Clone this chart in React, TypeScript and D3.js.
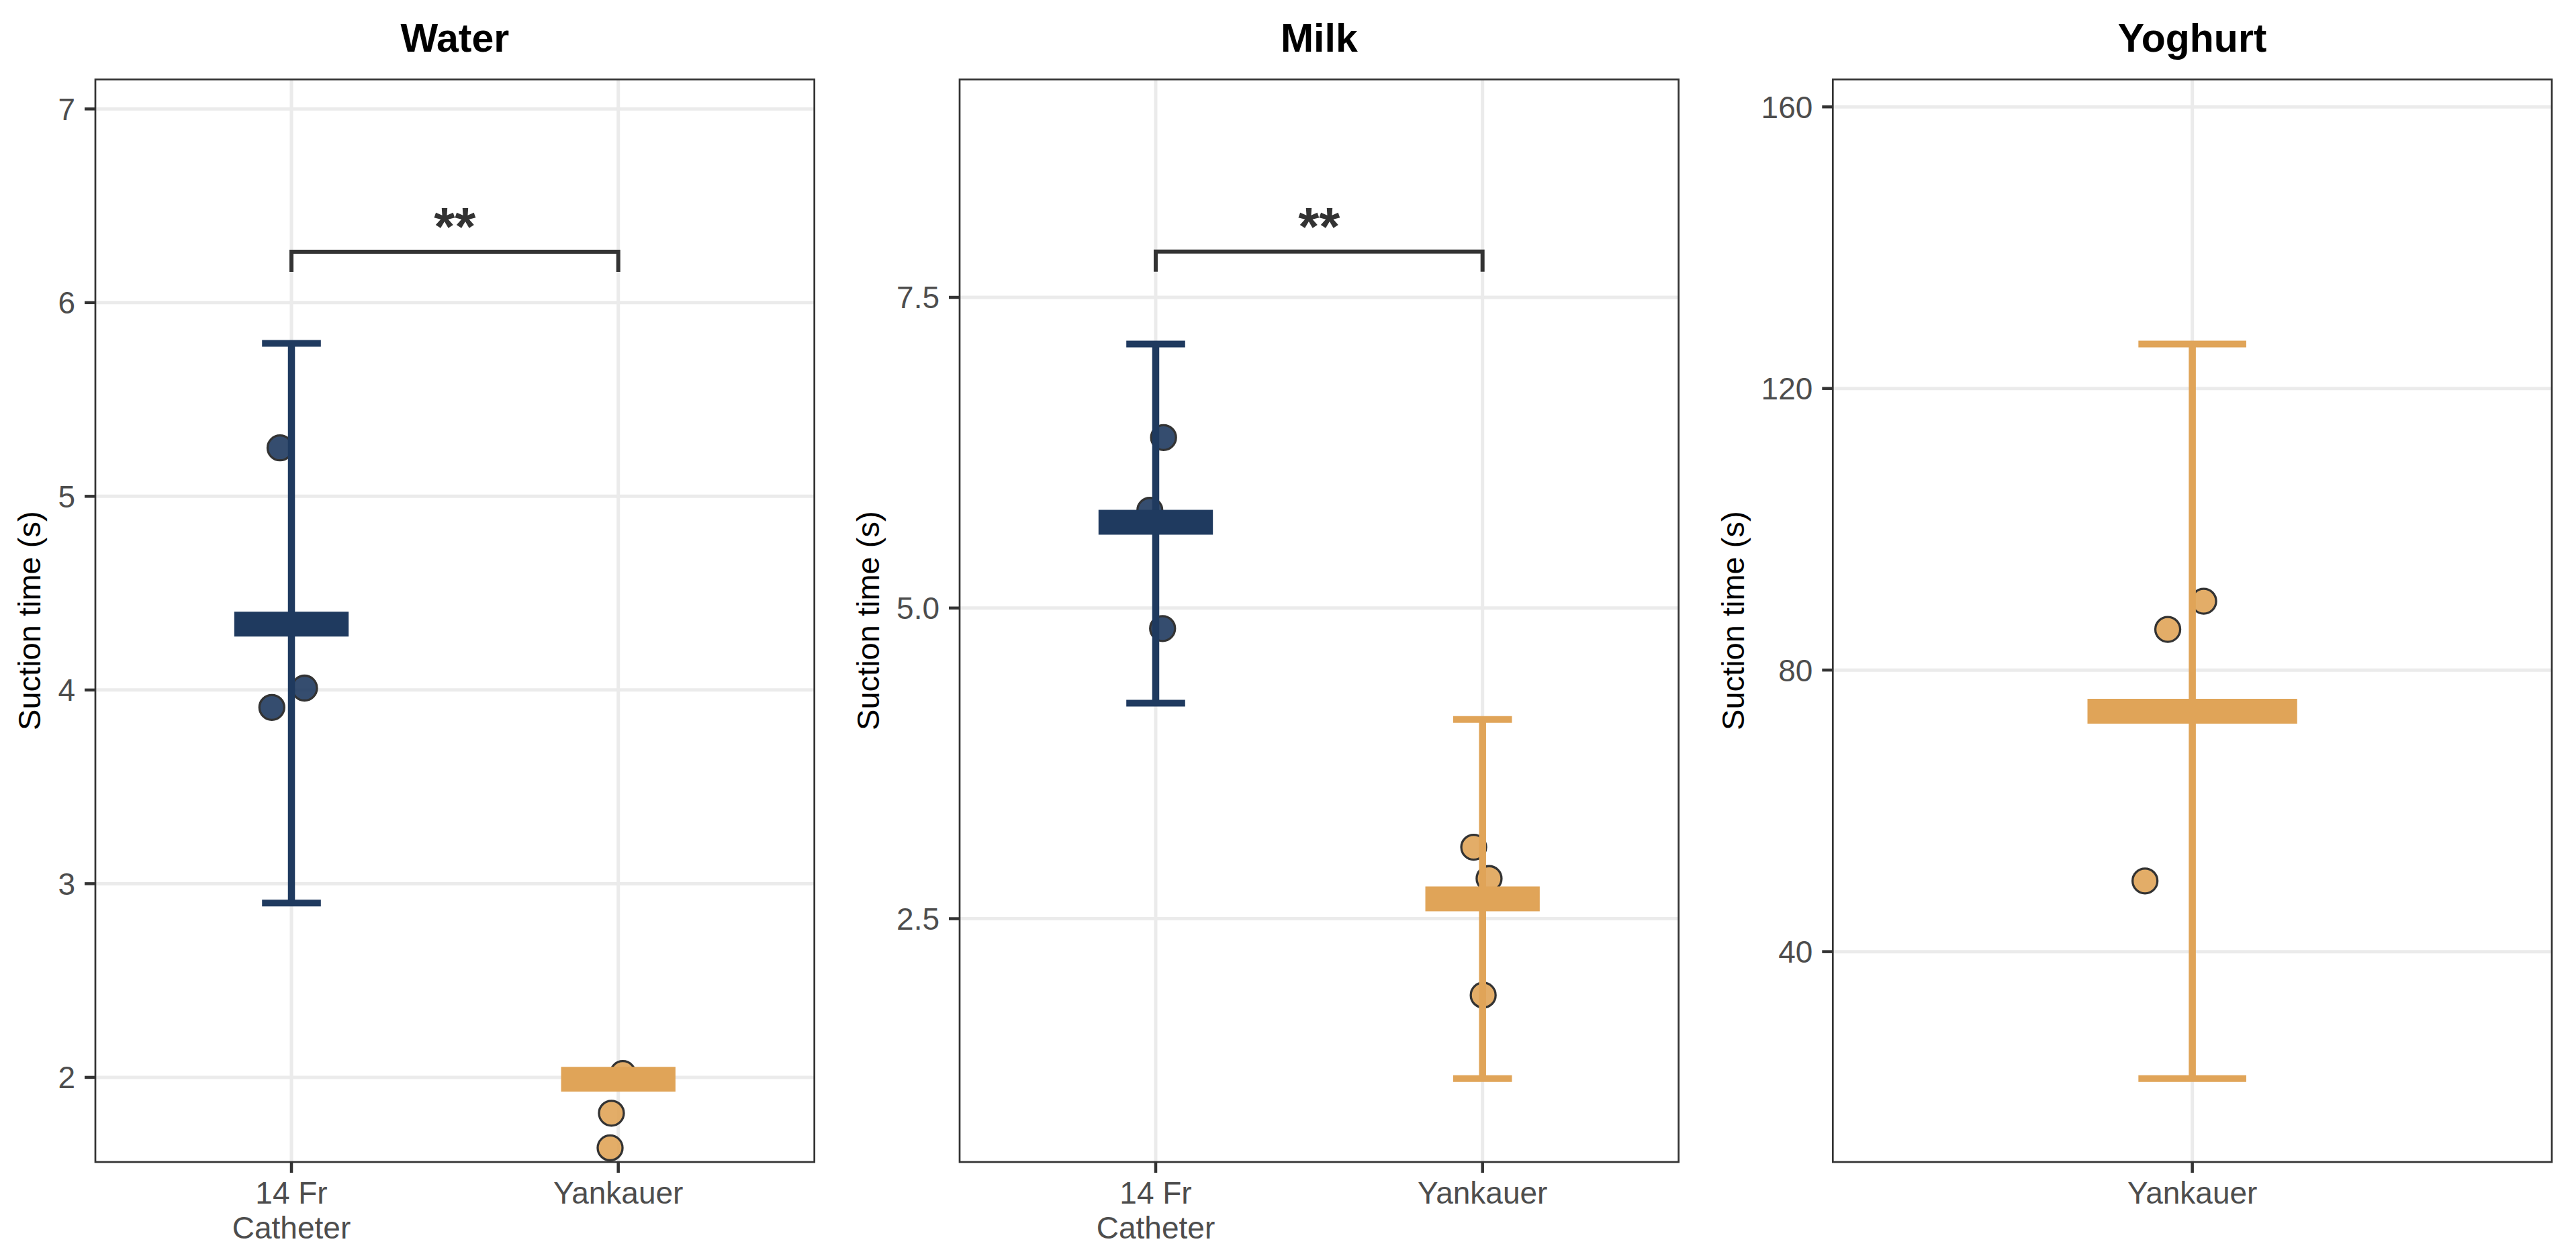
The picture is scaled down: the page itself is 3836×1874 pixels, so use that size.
import React from "react";
import * as d3 from "d3";

// ---------- data ----------
const panelTitles = ["Water", "Milk", "Yoghurt"];

const waterCategories = ["14 Fr\nCatheter", "Yankauer"];
const waterMeans = [4.34, 1.99];
const waterLow: (number | null)[] = [2.9, null];
const waterHigh: (number | null)[] = [5.79, null];
const waterPoints = [[5.25, 4.01, 3.91], [2.02, 1.815, 1.636]];
const waterJitter = [[-0.035, 0.04, -0.06], [0.014, -0.021, -0.025]];
const waterTicks = [2, 3, 4, 5, 6, 7];
const waterTickLabels = ["2", "3", "4", "5", "6", "7"];
const waterDomain = [1.563, 7.1525];
const waterSig = { y: 6.263, tip: 6.159, label: "**" };

const milkCategories = ["14 Fr\nCatheter", "Yankauer"];
const milkMeans = [5.69, 2.66];
const milkLow: (number | null)[] = [4.234, 1.213];
const milkHigh: (number | null)[] = [7.125, 4.104];
const milkPoints = [[6.372, 5.786, 4.835], [3.075, 2.823, 1.885]];
const milkJitter = [[0.024, -0.018, 0.021], [-0.027, 0.02, 0.002]];
const milkTicks = [2.5, 5.0, 7.5];
const milkTickLabels = ["2.5", "5.0", "7.5"];
const milkDomain = [0.542, 9.254];
const milkSig = { y: 7.868, tip: 7.706, label: "**" };

const yogCategories = ["Yankauer"];
const yogMeans = [74.14];
const yogLow: (number | null)[] = [21.96];
const yogHigh: (number | null)[] = [126.3];
const yogPoints = [[89.78, 85.78, 50.04]];
const yogJitter = [[0.019, -0.041, -0.079]];
const yogTicks = [40, 80, 120, 160];
const yogTickLabels = ["40", "80", "120", "160"];
const yogDomain = [10.12, 163.9];

const categoryColors: Record<string, string> = {
  "14 Fr\nCatheter": "#1F3A5F",
  Yankauer: "#E0A458",
};

const yAxisTitle = "Suction time (s)";

// ---------- layout ----------
const W = 3836;
const H = 1874;
const TOP = 118.3;
const BOTTOM = 1731;
const PANEL_W = 1070.7;
const panelLefts = [142, 1429, 2729.3];
const FONT = "'Liberation Sans', Arial, Helvetica, sans-serif";
const TICK_FS = 46;
const TITLE_FS = 59;
const AXTITLE_FS = 47;

function measure(text: string, size: number, weight = "normal"): number {
  try {
    const c = document.createElement("canvas");
    const ctx = c.getContext("2d");
    if (ctx) {
      ctx.font = `${weight} ${size}px 'Liberation Sans', Arial, sans-serif`;
      return ctx.measureText(text).width;
    }
  } catch (e) {}
  return text.length * size * 0.556;
}

type PanelSpec = {
  title: string;
  categories: string[];
  means: number[];
  low: (number | null)[];
  high: (number | null)[];
  points: number[][];
  jitter: number[][];
  ticks: number[];
  tickLabels: string[];
  domain: number[];
  sig?: { y: number; tip: number; label: string };
};

const panelSpecs: PanelSpec[] = [
  { title: panelTitles[0], categories: waterCategories, means: waterMeans, low: waterLow, high: waterHigh, points: waterPoints, jitter: waterJitter, ticks: waterTicks, tickLabels: waterTickLabels, domain: waterDomain, sig: waterSig },
  { title: panelTitles[1], categories: milkCategories, means: milkMeans, low: milkLow, high: milkHigh, points: milkPoints, jitter: milkJitter, ticks: milkTicks, tickLabels: milkTickLabels, domain: milkDomain, sig: milkSig },
  { title: panelTitles[2], categories: yogCategories, means: yogMeans, low: yogLow, high: yogHigh, points: yogPoints, jitter: yogJitter, ticks: yogTicks, tickLabels: yogTickLabels, domain: yogDomain },
];

function Panel({ spec, left }: { spec: PanelSpec; left: number }) {
  const n = spec.categories.length;
  const x = d3.scaleLinear().domain([0.4, n + 0.6]).range([left, left + PANEL_W]);
  const y = d3.scaleLinear().domain(spec.domain).range([BOTTOM, TOP]);
  const cx = (i: number) => x(i + 1);
  const crossHalf = 0.175;
  const capHalf = 0.09;
  const maxLabelW = Math.max(...spec.tickLabels.map((t) => measure(t, TICK_FS)));
  const labelRight = left - 30;
  const titleBaseline = labelRight - maxLabelW - 26;
  const midY = (TOP + BOTTOM) / 2;

  return (
    <g>
      {/* grid */}
      {spec.ticks.map((t, i) => (
        <line key={"gy" + i} x1={left} x2={left + PANEL_W} y1={y(t)} y2={y(t)} stroke="#EBEBEB" strokeWidth={5} />
      ))}
      {spec.categories.map((c, i) => (
        <line key={"gx" + i} x1={cx(i)} x2={cx(i)} y1={TOP} y2={BOTTOM} stroke="#EBEBEB" strokeWidth={5} />
      ))}
      <clipPath id={"clip-" + spec.title}>
        <rect x={left} y={TOP} width={PANEL_W} height={BOTTOM - TOP} />
      </clipPath>
      <g clipPath={`url(#clip-${spec.title})`}>
        {/* points */}
        {spec.categories.map((c, i) =>
          spec.points[i].map((v, j) => (
            <circle
              key={`p${i}-${j}`}
              cx={x(i + 1 + spec.jitter[i][j])}
              cy={y(v)}
              r={18.5}
              fill={categoryColors[c]}
              fillOpacity={0.9}
              stroke="#333333"
              strokeWidth={3.3}
            />
          ))
        )}
        {/* error bars */}
        {spec.categories.map((c, i) => {
          const lo = spec.low[i];
          const hi = spec.high[i];
          if (lo == null || hi == null) return null;
          const col = categoryColors[c];
          return (
            <g key={"e" + i}>
              <line x1={cx(i)} x2={cx(i)} y1={y(lo)} y2={y(hi)} stroke={col} strokeWidth={10.5} />
              <line x1={x(i + 1 - capHalf)} x2={x(i + 1 + capHalf)} y1={y(hi)} y2={y(hi)} stroke={col} strokeWidth={10} />
              <line x1={x(i + 1 - capHalf)} x2={x(i + 1 + capHalf)} y1={y(lo)} y2={y(lo)} stroke={col} strokeWidth={10} />
            </g>
          );
        })}
        {/* mean crossbars */}
        {spec.categories.map((c, i) => (
          <line
            key={"m" + i}
            x1={x(i + 1 - crossHalf)}
            x2={x(i + 1 + crossHalf)}
            y1={y(spec.means[i])}
            y2={y(spec.means[i])}
            stroke={categoryColors[c]}
            strokeWidth={37}
          />
        ))}
        {/* significance */}
        {spec.sig && (
          <g>
            <path
              d={`M${cx(0)},${y(spec.sig.tip)}V${y(spec.sig.y)}H${cx(1)}V${y(spec.sig.tip)}`}
              fill="none"
              stroke="#333333"
              strokeWidth={6}
            />
            <text
              x={(cx(0) + cx(1)) / 2}
              y={y(spec.sig.y) - 10}
              textAnchor="middle"
              fontFamily={FONT}
              fontWeight="bold"
              fontSize={80}
              fill="#333333"
            >
              {spec.sig.label}
            </text>
          </g>
        )}
      </g>
      {/* border */}
      <rect x={left} y={TOP} width={PANEL_W} height={BOTTOM - TOP} fill="none" stroke="#333333" strokeWidth={2.7} />
      {/* y ticks */}
      {spec.ticks.map((t, i) => (
        <g key={"yt" + i}>
          <line x1={left - 16} x2={left} y1={y(t)} y2={y(t)} stroke="#333333" strokeWidth={4.5} />
          <text x={labelRight} y={y(t) + TICK_FS * 0.358} textAnchor="end" fontFamily={FONT} fontSize={TICK_FS} fill="#4D4D4D">
            {spec.tickLabels[i]}
          </text>
        </g>
      ))}
      {/* x ticks */}
      {spec.categories.map((c, i) => (
        <g key={"xt" + i}>
          <line x1={cx(i)} x2={cx(i)} y1={BOTTOM} y2={BOTTOM + 16} stroke="#333333" strokeWidth={4.5} />
          <text textAnchor="middle" fontFamily={FONT} fontSize={TICK_FS} fill="#4D4D4D">
            {c.split("\n").map((line, k) => (
              <tspan key={k} x={cx(i)} y={1793 + k * 52}>
                {line}
              </tspan>
            ))}
          </text>
        </g>
      ))}
      {/* titles */}
      <text x={left + PANEL_W / 2} y={77} textAnchor="middle" fontFamily={FONT} fontWeight="bold" fontSize={TITLE_FS} fill="#000000">
        {spec.title}
      </text>
      <text
        transform={`translate(${titleBaseline},${midY}) rotate(-90)`}
        textAnchor="middle"
        fontFamily={FONT}
        fontSize={AXTITLE_FS}
        fill="#000000"
      >
        {yAxisTitle}
      </text>
    </g>
  );
}

export default function App() {
  return (
    <svg
      width={W}
      height={H}
      viewBox={`0 0 ${W} ${H}`}
      style={{ position: "absolute", left: 0, top: 0, display: "block", background: "#FFFFFF" }}
    >
      <rect x={0} y={0} width={W} height={H} fill="#FFFFFF" />
      {panelSpecs.map((s, i) => (
        <Panel key={s.title} spec={s} left={panelLefts[i]} />
      ))}
    </svg>
  );
}
